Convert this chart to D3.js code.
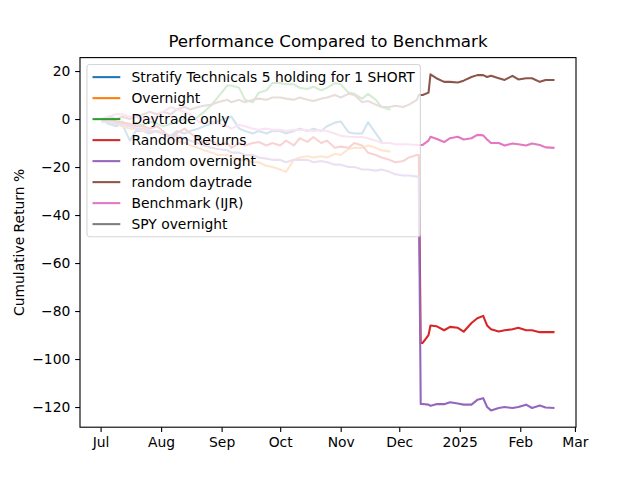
<!DOCTYPE html>
<html>
<head>
<meta charset="utf-8">
<script src="https://cdn.jsdelivr.net/npm/d3@7"></script>
<style>
  body { margin: 0; background: white; }
  text { font-family: "DejaVu Sans", sans-serif; }
</style>
</head>
<body>
<div id="chart"></div>
<script>
// dates (before the switch and after it)
var preDates = ["2024-07-02", "2024-07-05", "2024-07-09", "2024-07-12", "2024-07-16", "2024-07-19", "2024-07-23", "2024-07-26", "2024-07-30",
    "2024-08-02", "2024-08-06", "2024-08-09", "2024-08-13", "2024-08-16", "2024-08-20", "2024-08-23", "2024-08-27", "2024-08-30",
    "2024-09-04", "2024-09-06", "2024-09-10", "2024-09-13", "2024-09-17", "2024-09-20", "2024-09-24", "2024-09-27",
    "2024-10-01", "2024-10-04", "2024-10-08", "2024-10-11", "2024-10-15", "2024-10-18", "2024-10-22", "2024-10-25", "2024-10-29",
    "2024-11-01", "2024-11-05", "2024-11-08", "2024-11-12", "2024-11-15", "2024-11-19", "2024-11-22", "2024-11-26", "2024-11-29",
    "2024-12-03", "2024-12-06", "2024-12-10", "2024-12-11"]
var postDates = ["2024-12-12", "2024-12-13", "2024-12-16", "2024-12-17", "2024-12-20", "2024-12-24", "2024-12-27", "2024-12-31",
    "2025-01-03", "2025-01-07", "2025-01-10", "2025-01-13", "2025-01-15", "2025-01-17", "2025-01-21", "2025-01-24", "2025-01-28", "2025-01-31",
    "2025-02-04", "2025-02-07", "2025-02-11", "2025-02-14", "2025-02-18"]

// cumulative return % per series
var stratify = [0, -2, -3, -2, -9, -5, -5, -6, -5, -6, -7, -5, -6, -5, -4, -3, -2, -1, 0.5, 1, -4, -5, -6, -5, -6,
    -5, -5, -6, -5, -4, -5, -4, -5, -3, -1.5, -1, -5.5, -6, -6, -1.3, -6, -9.5]
var overnight = [-1, -1, -2, -3, -4, -4, -5, -5, -5.5, -6, -8, -9, -10, -11, -12, -13, -14, -15, -15, -16, -17, -17, -18, -18, -19.5,
    -20, -21, -22, -17, -16, -15.5, -16, -15.5, -16, -14.5, -15, -12.5, -12, -12, -11, -12, -13, -13.5]
var daytrade = [0, -1, -2, -1, -3, -2, -2.5, -1, -2, -3, -2, -1, 0, -1, 1, 3, 6, 9, 14, 14, 13, 8, 7, 11, 12,
    15, 15, 14.5, 14.5, 13, 12.5, 13.5, 12, 13, 15, 14.5, 11, 10.5, 8.5, 10.5, 8, 5, 4]
var randomReturns = [-1, 0, -1, -1.5, -2, -3, -3, -4, -3, -5, -8, -6, -4, -6, -8, -10, -9, -11, -10, -12, -10, -11, -10, -9.6, -11,
    -10, -11, -9, -11, -8, -9.5, -7.5, -10, -9, -12, -11.5, -12, -10, -11, -14, -15, -16, -17, -18, -17.5, -16, -15, -15,
    -93.3, -93.3, -90, -86, -86.3, -88, -86.6, -87, -88.6, -85, -83, -82, -86, -87.6, -88.5, -88, -87.6, -87, -88, -88, -88.8, -88.8, -88.8]
var randomOvernight = [-1, -1, -2, -2.5, -3, -4, -4, -5, -5, -6, -8, -7, -8, -9, -10, -11, -12, -12.5, -13, -14, -14, -15, -15, -16, -16.5,
    -17, -17, -18, -17, -17, -17, -18, -17.5, -18, -19, -19, -20, -20, -21, -21, -21.5, -21, -22, -23, -23.5, -23.5, -24, -24,
    -118.75, -118.75, -119, -119.5, -118.8, -118.8, -118, -118.5, -119, -119, -117, -116.3, -120, -121.4, -120.4, -120, -120.4, -120, -119, -120.4, -119.4, -120.2, -120.4]
var randomDaytrade = [0, 1, 0, 1, 0, 1, 2, 3, 2, 3, 2, 4, 5, 4, 5, 5.5, 6, 7, 8, 7, 8, 7, 8, 8.5, 8,
    9, 9, 8.5, 8, 9, 8, 7.5, 8.5, 9, 10, 9, 10.5, 10, 7, 7.5, 6, 5, 5, 5.5, 5, 6, 8, 10,
    10, 10, 11, 18.6, 17, 15.5, 15.5, 15.2, 16, 17.5, 18.3, 18.3, 17.5, 18, 17, 16.3, 18, 16.5, 17, 17, 15.5, 16.3, 16.3]
var benchmark = [0, 1, 2, 2, 1, 1, 0, 0, 1, 3, 5, 4, 3, 2, -1, -2, -1, -2, -3, -4, -2.5, -3, -4, -4.5, -4,
    -4.5, -4.5, -5, -4.5, -4.6, -4.5, -5, -4.6, -5, -6, -7, -7.4, -7.5, -7.5, -8, -9, -10, -10, -10.5, -10.5, -10.6, -10.8, -10.8,
    -10.8, -10.8, -9, -7.4, -8.2, -9.6, -8, -7.4, -8.5, -8, -6.6, -6.8, -8.5, -10, -10, -11, -10.2, -10.5, -11, -10.2, -10.8, -11.8, -12]
var spyOvernight = []

var seriesNames = ["Stratify Technicals 5 holding for 1 SHORT", "Overnight", "Daytrade only", "Random Returns",
    "random overnight", "random daytrade", "Benchmark (IJR)", "SPY overnight"]
var seriesValues = [stratify, overnight, daytrade, randomReturns, randomOvernight, randomDaytrade, benchmark, spyOvernight]
var colors = ["#1f77b4", "#ff7f0e", "#2ca02c", "#d62728", "#9467bd", "#8c564b", "#e377c2", "#7f7f7f"]

var yTicks = [-120, -100, -80, -60, -40, -20, 0, 20]
var xTickDates = ["2024-07-01", "2024-08-01", "2024-09-01", "2024-10-01", "2024-11-01", "2024-12-01", "2025-01-01", "2025-02-01", "2025-03-01"]
var xTickLabels = ["Jul", "Aug", "Sep", "Oct", "Nov", "Dec", "2025", "Feb", "Mar"]

var parse = d3.timeParse("%Y-%m-%d")
var allDates = preDates.concat(postDates).map(parse)

var margin = { top: 57.6, right: 64, bottom: 52.8, left: 80 },
    width = 640 - margin.left - margin.right,
    height = 480 - margin.top - margin.bottom;

var svg = d3.select("#chart")
    .append("svg")
    .attr("width", 640)
    .attr("height", 480)

var g = svg.append("g")
    .attr("transform", "translate(" + margin.left + "," + margin.top + ")")

// build points for each series
var series = seriesValues.map(function (vals, i) {
    return {
        name: seriesNames[i],
        color: colors[i],
        points: vals.map(function (v, j) { return { date: allDates[j], value: v } })
    }
})

// domains with 5% padding, like matplotlib
var allPts = d3.merge(series.map(function (s) { return s.points }))
var tExt = d3.extent(allPts, function (d) { return d.date })
var tPad = (tExt[1] - tExt[0]) * 0.05
var vExt = d3.extent(allPts, function (d) { return d.value })
var vPad = (vExt[1] - vExt[0]) * 0.05

var x = d3.scaleTime()
    .domain([new Date(+tExt[0] - tPad), new Date(+tExt[1] + tPad)])
    .range([0, width])
var y = d3.scaleLinear()
    .domain([vExt[0] - vPad, vExt[1] + vPad])
    .range([height, 0])

// lines
var line = d3.line()
    .x(function (d) { return x(d.date) })
    .y(function (d) { return y(d.value) })

g.append("g")
    .selectAll("path")
    .data(series)
    .enter()
    .append("path")
    .attr("d", function (d) { return d.points.length ? line(d.points) : null })
    .attr("fill", "none")
    .attr("stroke", function (d) { return d.color })
    .attr("stroke-width", 2.08)
    .attr("stroke-linejoin", "round")
    .attr("stroke-linecap", "square")

// axes
var xAxis = g.append("g")
    .attr("transform", "translate(0," + height + ")")
    .call(d3.axisBottom(x)
        .tickValues(xTickDates.map(parse))
        .tickFormat(function (d, i) { return xTickLabels[i] })
        .tickSizeInner(4.86).tickSizeOuter(0).tickPadding(4.86))
var yAxis = g.append("g")
    .call(d3.axisLeft(y)
        .tickValues(yTicks)
        .tickFormat(function (d) { return d < 0 ? "\u2212" + Math.abs(d) : d })
        .tickSizeInner(4.86).tickSizeOuter(0).tickPadding(4.86))

;[xAxis, yAxis].forEach(function (ax) {
    ax.select(".domain").remove()
    ax.selectAll(".tick line").attr("stroke", "black").attr("stroke-width", 1.11)
    ax.selectAll(".tick text").attr("fill", "black").style("font-size", "13.89px").style("font-family", "DejaVu Sans")
})

// frame
g.append("rect")
    .attr("width", width)
    .attr("height", height)
    .attr("fill", "none")
    .attr("stroke", "black")
    .attr("stroke-width", 1.11)

// title and y label
svg.append("text")
    .attr("x", margin.left + width / 2)
    .attr("y", 47)
    .attr("text-anchor", "middle")
    .style("font-size", "16.67px")
    .text("Performance Compared to Benchmark")

svg.append("text")
    .attr("transform", "rotate(-90)")
    .attr("x", -(margin.top + height / 2))
    .attr("y", 24)
    .attr("text-anchor", "middle")
    .style("font-size", "13.89px")
    .text("Cumulative Return %")

// legend
var fs = 13.89, rowH = 14.06, gap = 6.94, pad = 5.56
var lg = g.append("g")
    .attr("transform", "translate(6.94,6.94)")
var box = lg.append("rect")
    .attr("rx", 2.8)
    .attr("fill", "white")
    .attr("fill-opacity", 0.8)
    .attr("stroke", "#cccccc")
    .attr("stroke-opacity", 0.8)
    .attr("stroke-width", 1.11)

var maxW = 0
series.forEach(function (s, i) {
    var cy = pad + rowH / 2 + i * (rowH + gap)
    lg.append("line")
        .attr("x1", pad).attr("x2", pad + 27.8)
        .attr("y1", cy).attr("y2", cy)
        .attr("stroke", s.color)
        .attr("stroke-width", 2.08)
    var t = lg.append("text")
        .attr("x", pad + 27.8 + 11.1)
        .attr("y", cy)
        .attr("dy", "0.36em")
        .style("font-size", fs + "px")
        .text(s.name)
    maxW = Math.max(maxW, t.node().getComputedTextLength())
})
box.attr("width", pad * 2 + 27.8 + 11.1 + maxW)
    .attr("height", pad * 2 + series.length * rowH + (series.length - 1) * gap)
</script>
</body>
</html>
